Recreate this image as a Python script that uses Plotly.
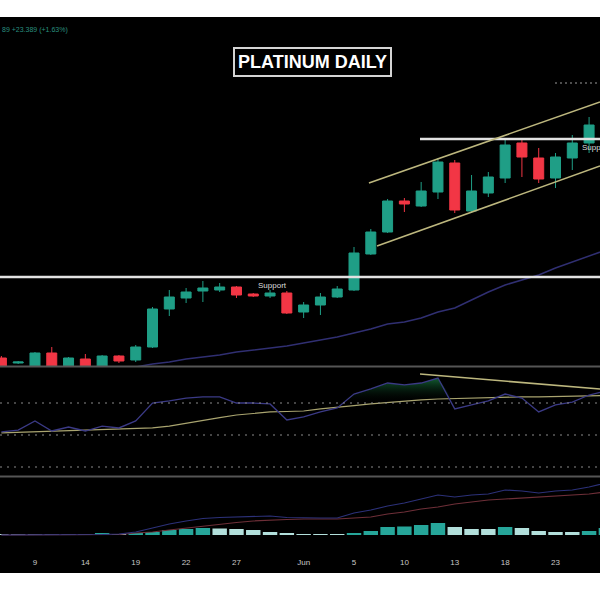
import numpy as np
import plotly.graph_objects as go

# ---------------- data ----------------
bars = list(range(37))
opens = [969.5, 967, 964, 972, 964, 969, 964, 970.5, 968.5, 975, 994, 999.5, 1003, 1003.5, 1005, 1001.5,
         1000.5, 1002, 992.5, 996, 1000, 1003.5, 1021.5, 1032.5, 1048, 1045.5, 1052.5, 1067, 1043, 1052,
         1059.5, 1077, 1069.5, 1059.5, 1069.5, 1077, 1086]
highs = [970.5, 968, 972.5, 975, 970, 971.5, 971, 971, 976, 995, 1003.5, 1004.5, 1008, 1007, 1005.5, 1002,
         1003.5, 1003, 997.5, 1002, 1005.5, 1025, 1034, 1049, 1049.5, 1057.5, 1069.5, 1068.5, 1061, 1062.5,
         1079, 1079.5, 1074.5, 1072, 1081, 1090, 1104.5]
lows = [962.5, 966.5, 963.5, 963.5, 963.5, 963.5, 963.5, 967, 967.5, 974.5, 990.5, 997, 997.5, 1002.5, 999.5,
        1000, 999.5, 991.5, 989.5, 991, 999.5, 1003, 1021, 1032, 1042.5, 1045, 1049, 1042, 1042, 1050,
        1057, 1060, 1057, 1054.5, 1063.5, 1072, 1084.5]
closes = [964.5, 967.5, 972, 964, 969.5, 964, 970.5, 968, 975, 994, 1000, 1002.5, 1004.5, 1005, 1001, 1000.5,
          1002, 992, 996, 1000, 1004, 1022, 1032.5, 1048, 1046.5, 1053, 1067.5, 1043.5, 1053, 1060,
          1076, 1070, 1059, 1070, 1077, 1086, 1102.5]
moving_avg = [958.5, 959, 959.5, 960, 960.5, 961.5, 962.5, 963.5, 965, 966.5, 967.5, 969, 970, 971, 972.5,
              973.5, 974.5, 975.5, 977, 978.5, 980, 982, 984, 986.5, 987.5, 989.5, 992.5, 994.5, 998.5,
              1002.5, 1006, 1008.5, 1011, 1014.5, 1017.5, 1020.5, 1023.5]

rsi = [51.9, 53.1, 58.8, 52.5, 55.0, 52.5, 55.6, 54.4, 58.8, 70.0, 71.3, 73.1, 73.8, 73.8, 70.0, 70.0, 69.4,
       59.4, 61.3, 64.4, 66.9, 75.6, 78.8, 82.5, 81.3, 82.5, 85.6, 66.3, 68.8, 71.3, 75.6, 73.1, 64.4, 68.8,
       70.6, 75.0, 77.5]
rsi_ma = [51.3, 51.6, 51.9, 52.2, 52.5, 52.8, 53.1, 53.4, 53.8, 54.4, 55.6, 57.5, 59.4, 60.9, 62.5, 63.4,
          64.4, 64.7, 65.0, 66.3, 67.5, 68.4, 69.4, 70.3, 71.3, 71.9, 72.5, 72.8, 73.1, 73.4, 73.8, 73.8,
          73.8, 74.1, 74.4, 74.4, 74.7]
rsi_levels = [70, 50, 30]

macd = [0, 0, 0, 0, 0, 0, 0.25, 0.5, 1.5, 3.5, 5.5, 7.0, 8.25, 8.75, 9.0, 9.25, 9.5, 8.75, 8.5, 8.5, 8.5,
        11.0, 12.5, 14.5, 16.0, 18.0, 20.0, 19.0, 20.0, 20.5, 22.5, 22.0, 21.0, 22.0, 22.5, 24.0, 26.0]
signal = [0, 0, 0, 0, 0, 0, 0, 0.25, 1.0, 1.5, 2.5, 3.5, 4.25, 5.5, 6.25, 7.0, 7.5, 7.75, 8.0, 8.0, 8.0,
          8.5, 9.0, 10.5, 11.5, 13.0, 14.0, 15.5, 16.5, 17.5, 18.0, 18.5, 19.0, 19.5, 20.0, 20.5, 21.5]
hist = [0.5, 0.5, 0.5, 0.5, 0.5, 0.5, 0.75, 0.5, 1.0, 1.5, 2.5, 3.0, 3.5, 3.25, 3.0, 2.5, 1.5, 1.0, 0.5,
        0.25, 0.25, 1.0, 2.0, 4.0, 4.25, 5.0, 6.0, 4.0, 3.0, 3.0, 4.0, 3.5, 2.0, 1.5, 1.5, 2.0, 3.5]

tick_bars = [2, 5, 8, 11, 14, 18, 21, 24, 27, 30, 33]
tick_labels = ["9", "14", "19", "22", "27", "Jun", "5", "10", "13", "18", "23"]

support_price = 1010
resistance_price = 1079
resistance_start = 24.93
target_price = 1107
target_start = 32.97
channel_upper_x, channel_upper_y = [21.89, 35.65], [1057, 1097.5]
channel_lower_x, channel_lower_y = [22.37, 35.65], [1025.5, 1065.5]
rsi_trend_x, rsi_trend_y = [24.93, 35.65], [88.1, 78.75]

# ---------------- styles ----------------
UP = "#1f9e86"
DOWN = "#f23645"
HIST_UP = "#26a69a"
HIST_DN = "#b2dfdb"
KHAKI = "#bdb77e"
NAVY = "#302f72"
XR = [-0.083, 35.65]

hist_colors = [HIST_UP if (i > 0 and hist[i] > hist[i - 1]) else HIST_DN for i in range(len(hist))]

fig = go.Figure()
fig.add_trace(go.Candlestick(
    x=bars, open=opens, high=highs, low=lows, close=closes,
    increasing=dict(line=dict(color=UP, width=1), fillcolor=UP),
    decreasing=dict(line=dict(color=DOWN, width=1), fillcolor=DOWN),
    whiskerwidth=0, xaxis="x", yaxis="y", showlegend=False))
fig.add_trace(go.Scatter(x=bars, y=moving_avg, mode="lines", line=dict(color=NAVY, width=1.5),
                         xaxis="x", yaxis="y", showlegend=False))

# RSI
fig.add_trace(go.Scatter(x=bars, y=[rsi_levels[0]] * len(bars), mode="lines", line=dict(width=0),
                         xaxis="x2", yaxis="y2", showlegend=False, hoverinfo="skip"))
fig.add_trace(go.Scatter(x=bars, y=np.maximum(np.array(rsi), rsi_levels[0]), mode="lines",
                         line=dict(width=0), fill="tonexty",
                         fillgradient=dict(type="vertical", start=70, stop=88,
                                           colorscale=[[0, "rgba(0,0,0,0)"], [1, "rgba(30,150,80,0.85)"]]),
                         xaxis="x2", yaxis="y2", showlegend=False, hoverinfo="skip"))
fig.add_trace(go.Scatter(x=bars, y=rsi_ma, mode="lines", line=dict(color="#a9a46f", width=1.2),
                         xaxis="x2", yaxis="y2", showlegend=False))
fig.add_trace(go.Scatter(x=bars, y=rsi, mode="lines", line=dict(color="#3b3a86", width=1.3),
                         xaxis="x2", yaxis="y2", showlegend=False))

# MACD
fig.add_trace(go.Bar(x=bars, y=hist, marker=dict(color=hist_colors, line=dict(width=0)), width=0.86,
                     xaxis="x3", yaxis="y3", showlegend=False))
fig.add_trace(go.Scatter(x=bars, y=signal, mode="lines", line=dict(color="#6e2f38", width=1.2),
                         xaxis="x3", yaxis="y3", showlegend=False))
fig.add_trace(go.Scatter(x=bars, y=macd, mode="lines", line=dict(color="#2c3179", width=1.2),
                         xaxis="x3", yaxis="y3", showlegend=False))

H = 600.0
def py(px):
    return 1 - px / H

shapes = [
    dict(type="rect", xref="paper", yref="paper", x0=0, x1=1, y0=py(573), y1=py(17),
         fillcolor="black", line=dict(width=0), layer="below"),
    dict(type="line", xref="paper", yref="paper", x0=0, x1=1, y0=py(366.5), y1=py(366.5),
         line=dict(color="#555555", width=2)),
    dict(type="line", xref="paper", yref="paper", x0=0, x1=1, y0=py(476.5), y1=py(476.5),
         line=dict(color="#555555", width=2)),
    dict(type="line", xref="paper", yref="y", x0=0, x1=1, y0=support_price, y1=support_price,
         line=dict(color="#e2e2e2", width=2.5)),
    dict(type="line", xref="x", yref="y", x0=resistance_start, x1=XR[1], y0=resistance_price,
         y1=resistance_price, line=dict(color="#e2e2e2", width=2.5)),
    dict(type="line", xref="x", yref="y", x0=target_start, x1=XR[1], y0=target_price, y1=target_price,
         line=dict(color="#9a9a9a", width=1, dash="2px,3px")),
    dict(type="line", xref="x", yref="y", x0=channel_upper_x[0], x1=channel_upper_x[1],
         y0=channel_upper_y[0], y1=channel_upper_y[1], line=dict(color=KHAKI, width=1.6)),
    dict(type="line", xref="x", yref="y", x0=channel_lower_x[0], x1=channel_lower_x[1],
         y0=channel_lower_y[0], y1=channel_lower_y[1], line=dict(color=KHAKI, width=1.6)),
    dict(type="line", xref="x2", yref="y2", x0=rsi_trend_x[0], x1=rsi_trend_x[1],
         y0=rsi_trend_y[0], y1=rsi_trend_y[1], line=dict(color=KHAKI, width=1.6)),
]
for lv in rsi_levels:
    shapes.append(dict(type="line", xref="paper", yref="y2", x0=0, x1=1, y0=lv, y1=lv,
                       line=dict(color="#8a8a8a", width=1, dash="2px,5px")))

annotations = [
    dict(xref="paper", yref="paper", x=0, y=py(30), xanchor="left", yanchor="middle",
         text="89 +23.389 (+1.63%)", showarrow=False,
         font=dict(family="Liberation Sans", size=7, color="#2a8f7f")),
    dict(xref="paper", yref="paper", x=312 / 600, y=py(61.5), xanchor="center", yanchor="middle",
         text="<b>PLATINUM DAILY</b>", showarrow=False, bgcolor="black",
         bordercolor="#d4d4d4", borderwidth=2, borderpad=3,
         font=dict(family="Liberation Sans", size=18, color="white")),
    dict(xref="x", yref="y", x=15.16, y=1005.75, xanchor="left", yanchor="middle",
         text="Support", showarrow=False,
         font=dict(family="Liberation Sans", size=8, color="#dddddd")),
    dict(xref="x", yref="y", x=34.46, y=1075, xanchor="left", yanchor="middle",
         text="Support", showarrow=False,
         font=dict(family="Liberation Sans", size=8, color="#dddddd")),
]

axis_common = dict(showgrid=False, zeroline=False, showline=False, ticks="")
fig.update_layout(
    template="none",
    width=600, height=600,
    margin=dict(l=0, r=0, t=0, b=0),
    paper_bgcolor="white", plot_bgcolor="black",
    showlegend=False, boxgap=0.15, bargap=0.1,
    xaxis=dict(domain=[0, 1], range=XR, anchor="y", showticklabels=False,
               rangeslider=dict(visible=False), **axis_common),
    xaxis2=dict(domain=[0, 1], range=XR, anchor="y2", matches="x", showticklabels=False, **axis_common),
    xaxis3=dict(domain=[0, 1], range=XR, anchor="y3", matches="x", tickmode="array",
                tickvals=tick_bars, ticktext=tick_labels,
                tickfont=dict(family="Liberation Sans", size=8, color="#c8c8c8"), automargin=False,
                **axis_common),
    yaxis=dict(domain=[py(366), py(17)], range=[965.5, 1140], showticklabels=False, **axis_common),
    yaxis2=dict(domain=[py(476), py(367)], range=[24.375, 92.5], showticklabels=False, **axis_common),
    yaxis3=dict(domain=[py(556), py(477)], range=[-10.5, 29], showticklabels=False, **axis_common),
    shapes=shapes, annotations=annotations,
)

fig.write_html("out.html", config={"displayModeBar": False},
               post_script="document.body.style.margin='0px';document.body.style.overflow='hidden';")
